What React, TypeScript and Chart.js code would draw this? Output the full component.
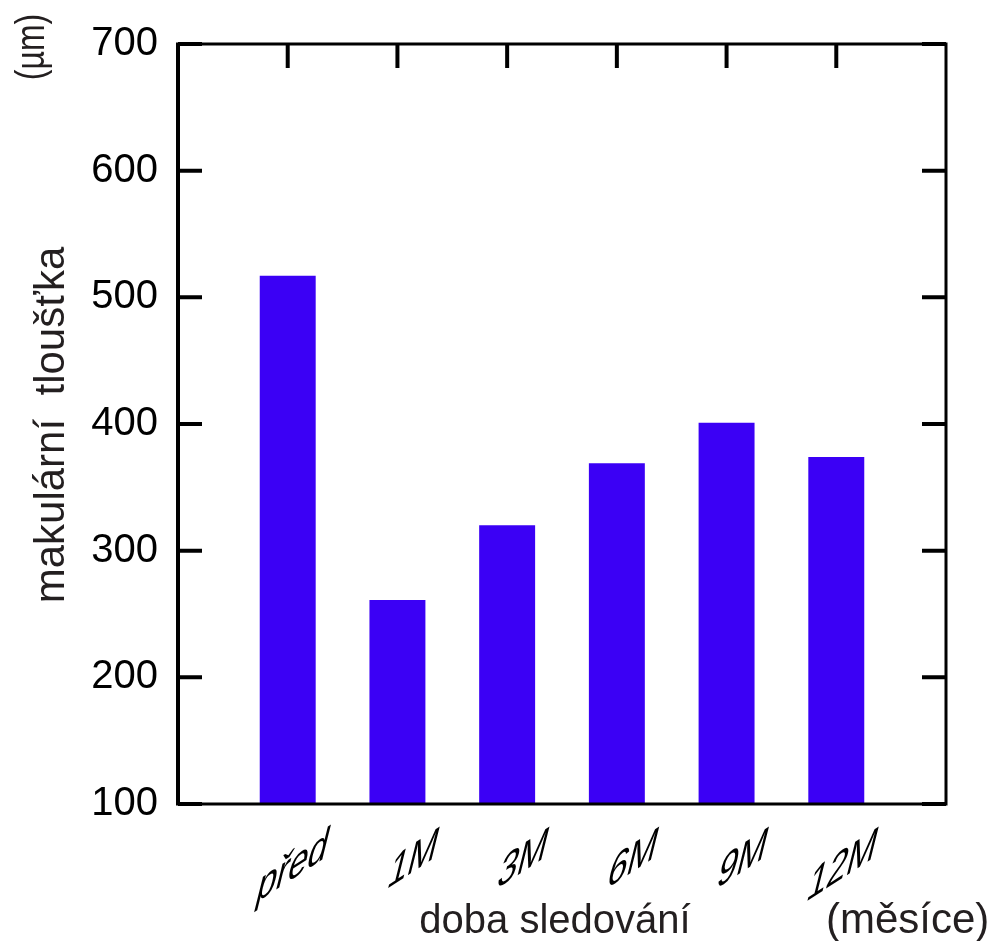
import React, { useEffect, useRef } from "react";
import { Chart, registerables } from "chart.js";

Chart.register(...registerables);

const categories = ["", "před", "1M", "3M", "6M", "9M", "12M", ""];
const thickness = [null, 517, 261, 320, 369, 401, 374, null];
const yTicks = [100, 200, 300, 400, 500, 600, 700];
const xTitle = "doba sledování";
const xUnit = "(měsíce)";
const yTitle = "makulární  tloušťka";
const yUnit = "(µm)";

const FONT = "'Liberation Sans', Arial, sans-serif";

const framePlugin = {
  id: "frame",
  afterDraw(chart: any) {
    const ctx = chart.ctx;
    const { left, right, top, bottom } = chart.chartArea;
    const x = chart.scales.x;
    const y = chart.scales.y;
    ctx.save();
    ctx.strokeStyle = "#000";
    ctx.lineCap = "butt";
    // inward ticks
    ctx.lineWidth = 4;
    const tl = 24;
    yTicks.forEach((v) => {
      const py = y.getPixelForValue(v);
      ctx.beginPath();
      ctx.moveTo(left, py);
      ctx.lineTo(left + tl, py);
      ctx.moveTo(right, py);
      ctx.lineTo(right - tl, py);
      ctx.stroke();
    });
    categories.forEach((c, i) => {
      if (!c) return;
      const px = x.getPixelForValue(i);
      ctx.beginPath();
      ctx.moveTo(px, top);
      ctx.lineTo(px, top + tl);
      ctx.stroke();
    });
    // frame
    ctx.lineWidth = 3;
    ctx.beginPath();
    ctx.moveTo(left, top);
    ctx.lineTo(right, top);
    ctx.lineTo(right, bottom);
    ctx.lineTo(left, bottom);
    ctx.stroke();
    ctx.lineWidth = 4;
    ctx.beginPath();
    ctx.moveTo(left, top - 1.5);
    ctx.lineTo(left, bottom + 1.5);
    ctx.stroke();

    // x category labels (slanted)
    ctx.fillStyle = "#000";
    ctx.font = `50px ${FONT}`;
    ctx.textAlign = "right";
    ctx.textBaseline = "alphabetic";
    const aL = (33 * Math.PI) / 180;
    const aU = (76 * Math.PI) / 180;
    const sL = 0.84;
    categories.forEach((c, i) => {
      if (!c) return;
      const px = x.getPixelForValue(i);
      ctx.save();
      ctx.translate(px + 37, bottom + 54);
      ctx.transform(sL * Math.cos(aL), -sL * Math.sin(aL), -Math.cos(aU), Math.sin(aU), 0, 0);
      ctx.fillText(c, 0, 0);
      ctx.restore();
    });

    // titles
    ctx.fillStyle = "#231f20";
    ctx.font = `40px ${FONT}`;
    ctx.textBaseline = "alphabetic";
    ctx.textAlign = "center";
    ctx.fillText(xTitle, 555, 933);
    ctx.textAlign = "left";
    ctx.font = `42px ${FONT}`;
    ctx.fillText(xUnit, 826, 933);

    ctx.save();
    ctx.translate(64, 425);
    ctx.rotate(-Math.PI / 2);
    ctx.textAlign = "center";
    ctx.font = `42px ${FONT}`;
    ctx.fillText(yTitle, 0, 0);
    ctx.restore();

    ctx.save();
    ctx.translate(44, 47);
    ctx.rotate(-Math.PI / 2);
    ctx.scale(0.8, 1);
    ctx.textAlign = "center";
    ctx.font = `40px ${FONT}`;
    ctx.fillText(yUnit, 0, 0);
    ctx.restore();
    ctx.restore();
  },
};

export default function App() {
  const ref = useRef<HTMLCanvasElement | null>(null);
  useEffect(() => {
    document.body.style.margin = "0";
    const chart = new Chart(ref.current as HTMLCanvasElement, {
      type: "bar",
      data: {
        labels: categories,
        datasets: [
          {
            data: thickness as any,
            backgroundColor: "#3b00f5",
            borderWidth: 0,
            categoryPercentage: 1,
            barPercentage: 0.51,
          },
        ],
      },
      options: {
        animation: false,
        responsive: false,
        maintainAspectRatio: false,
        layout: { padding: { left: 0, right: 51, top: 40, bottom: 0 } },
        plugins: { legend: { display: false }, tooltip: { enabled: false } },
        scales: {
          x: {
            offset: false,
            grid: { display: false, drawTicks: false },
            border: { display: false },
            ticks: { display: false, autoSkip: false },
            afterFit: (s: any) => {
              s.height = 137;
            },
          },
          y: {
            min: 100,
            max: 700,
            grid: { display: false, drawTicks: false },
            border: { display: false },
            ticks: {
              color: "#000",
              font: { family: FONT, size: 40 },
              stepSize: 100,
              padding: 20,
            },
            afterFit: (s: any) => {
              s.width = 178;
            },
          },
        },
      },
      plugins: [framePlugin],
    });
    return () => chart.destroy();
  }, []);
  return <canvas ref={ref} width={997} height={941} style={{ display: "block" }} />;
}
